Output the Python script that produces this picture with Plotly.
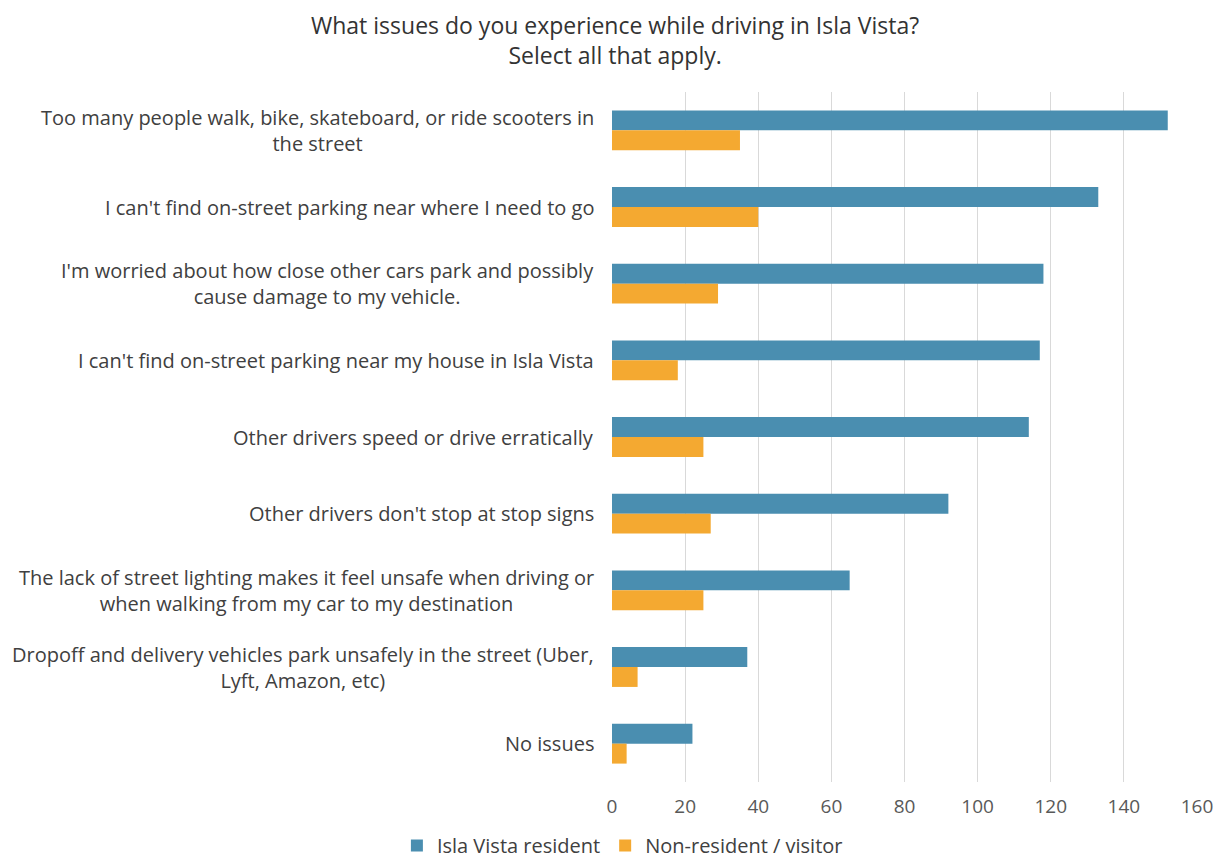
import plotly.graph_objects as go

# Survey responses: issues experienced while driving in Isla Vista
categories = [
    "Too many people walk, bike, skateboard, or ride scooters in<br>the street",
    "I can't find on-street parking near where I need to go",
    "I'm worried about how close other cars park and possibly<br>cause damage to my vehicle.",
    "I can't find on-street parking near my house in Isla Vista",
    "Other drivers speed or drive erratically",
    "Other drivers don't stop at stop signs",
    "The lack of street lighting makes it feel unsafe when driving or<br>when walking from my car to my destination",
    "Dropoff and delivery vehicles park unsafely in the street (Uber,<br>Lyft, Amazon, etc)",
    "No issues",
]
resident = [152, 133, 118, 117, 114, 92, 65, 37, 22]
visitor = [35, 40, 29, 18, 25, 27, 25, 7, 4]
x_ticks = [0, 20, 40, 60, 80, 100, 120, 140, 160]

BLUE = "#4A8EB0"
ORANGE = "#F4A931"
FONT = "Open Sans"
TEXT = "#404040"

fig = go.Figure()
fig.add_trace(go.Bar(
    y=categories, x=resident, orientation="h", name="Isla Vista resident",
    marker=dict(color=BLUE, line=dict(width=0)),
))
fig.add_trace(go.Bar(
    y=categories, x=visitor, orientation="h", name="Non-resident / visitor",
    marker=dict(color=ORANGE, line=dict(width=0)),
))

# Category labels: right-anchored blocks with centered lines
for cat in categories:
    fig.add_annotation(
        x=0, xref="paper", y=cat, yref="y",
        text=cat, showarrow=False,
        xanchor="right", yanchor="middle", align="center",
        xshift=-16,
        font=dict(family=FONT, size=20, color=TEXT),
    )

fig.update_layout(
    width=1218, height=861,
    paper_bgcolor="white", plot_bgcolor="white",
    margin=dict(l=612, r=21, t=92, b=79, autoexpand=False),
    barmode="group", bargap=0.48, bargroupgap=0,
    title=dict(
        text="What issues do you experience while driving in Isla Vista?<br>Select all that apply.",
        x=0.505, xanchor="center", y=0.9605, yanchor="top",
        font=dict(family=FONT, size=23, color="#333333"),
    ),
    font=dict(family=FONT, color=TEXT),
    legend=dict(
        orientation="h", xref="container", x=0.511, xanchor="center",
        yref="container", y=0.018, yanchor="middle",
        font=dict(family=FONT, size=20, color=TEXT),
        itemwidth=30, traceorder="normal",
    ),
    showlegend=True,
)
fig.update_xaxes(
    range=[0, 160], tickvals=x_ticks, ticktext=[str(v) for v in x_ticks],
    showgrid=True, gridcolor="#D9D9D9", gridwidth=1,
    zeroline=False, showline=False,
    tickfont=dict(family=FONT, size=19, color="#595959"),
    ticks="", ticklabelstandoff=11,
)
fig.update_yaxes(
    autorange="reversed", showticklabels=False, showgrid=False,
    zeroline=False, showline=False, ticks="",
)

fig.write_html("out.html")
